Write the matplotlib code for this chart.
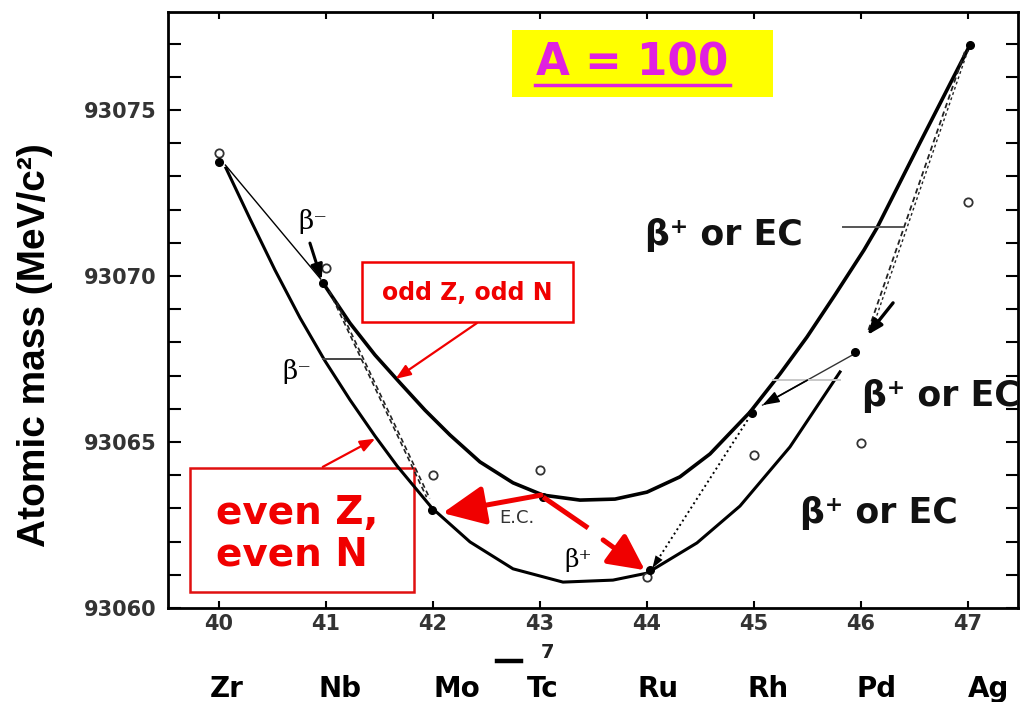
import matplotlib as mpl
mpl.use('Agg')
import matplotlib.pyplot as plt
import matplotlib.transforms as mtrans
from matplotlib.patches import Rectangle, FancyArrowPatch
from matplotlib.lines import Line2D
import numpy as np

# Isobar mass parabolas for A = 100

# axis values
Z_ticks = [40, 41, 42, 43, 44, 45, 46, 47]
elements = ['Zr', 'Nb', 'Mo', 'Tc', 'Ru', 'Rh', 'Pd', 'Ag']
mass_ticks = [93060, 93065, 93070, 93075]

# measured masses (open circles)
meas_Z = [40, 41, 42, 43, 44, 45, 46, 47]
meas_M = [93073.70, 93070.24, 93064.00, 93064.16, 93060.93, 93064.61, 93064.97, 93072.23]

# points sitting on the parabolas (filled dots)
dot_Z = [40.00, 40.97, 41.99, 43.03, 44.03, 44.98, 45.94, 47.02]
dot_M = [93073.43, 93069.79, 93062.95, 93063.34, 93061.14, 93065.87, 93067.71, 93076.96]

# even Z, even N parabola
ee_Z = [40.065, 40.290, 40.523, 40.757, 40.991, 41.224, 41.458, 41.664, 41.991,
        42.346, 42.748, 43.215, 43.682, 44.000, 44.467, 44.869, 45.336, 45.804]
ee_M = [93073.25, 93071.72, 93070.18, 93068.74, 93067.44, 93066.27, 93065.18,
        93064.28, 93063.01, 93061.99, 93061.18, 93060.78, 93060.84, 93061.05,
        93061.96, 93063.07, 93064.85, 93067.11]

# odd Z, odd N parabola
oo_Z = [40.972, 41.224, 41.458, 41.692, 41.925, 42.159, 42.439, 42.748, 43.028,
        43.374, 43.701, 44.000, 44.308, 44.589, 44.963, 45.243, 45.495, 45.757,
        46.028, 46.150, 46.551, 47.019]
oo_M = [93069.79, 93068.58, 93067.62, 93066.78, 93065.96, 93065.21, 93064.40,
        93063.77, 93063.40, 93063.25, 93063.28, 93063.49, 93063.95, 93064.64,
        93065.90, 93067.05, 93068.16, 93069.43, 93070.78, 93071.45, 93074.01,
        93076.96]

# decay lines (start, end) in (Z, mass)
zr_nb = [(40.06, 93073.34), (40.95, 93069.91)]
nb_head = [(40.85, 93070.99), (40.96, 93069.88)]
nb_mo_a = [(41.03, 93069.55), (41.94, 93063.34)]
nb_mo_b = [(41.10, 93069.20), (41.97, 93063.30)]
rh_ru = [(44.94, 93065.66), (44.05, 93061.20)]
pd_rh = [(45.92, 93067.62), (45.08, 93066.11)]
ag_pd_a = [(46.97, 93076.75), (46.06, 93068.28)]
ag_pd_b = [(47.00, 93076.80), (46.11, 93068.45)]
pd_head = [(46.30, 93069.19), (46.06, 93068.22)]

# red annotation arrows
ec_arrow = [(43.01, 93063.40), (42.09, 93062.86)]
bp_line = [(43.03, 93063.34), (43.45, 93062.41)]
bp_arrow = [(43.59, 93062.05), (43.98, 93061.14)]
odd_ptr = [(42.41, 93068.58), (41.65, 93066.90)]
even_ptr = [(40.97, 93064.25), (41.46, 93065.10)]

# little horizontal brackets
brackets = [((40.97, 41.32), 93067.50, '#444444'),
            ((45.83, 46.39), 93071.48, '#555555'),
            ((45.18, 45.80), 93066.87, '#c8c8c8')]

red = '#f00000'

fig = plt.figure(figsize=(10.21, 7.02), dpi=100)
ax = fig.add_axes([0.1645, 0.1339, 0.8325, 0.849])
ax.set_xlim(39.523, 47.467)
ax.set_ylim(93060, 93077.95)


def arrow(p, color='k', lw=1.0, hl=0.8, hw=0.35, ms=10, ls='-', z=5):
    a = FancyArrowPatch(p[0], p[1], arrowstyle='-|>,head_length=%g,head_width=%g' % (hl, hw),
                        mutation_scale=ms, color=color, lw=lw, linestyle=ls,
                        shrinkA=0, shrinkB=0, zorder=z)
    ax.add_patch(a)


def seg(p, **kw):
    ax.plot([p[0][0], p[1][0]], [p[0][1], p[1][1]], **kw)


# the two parabolas
ax.plot(ee_Z, ee_M, color='k', lw=2.2, solid_joinstyle='round', zorder=3)
ax.plot(oo_Z, oo_M, color='k', lw=2.6, solid_joinstyle='round', zorder=3)

# decay lines
seg(zr_nb, color='k', lw=1.0, zorder=3)
arrow(nb_head, lw=2.2, hl=0.9, hw=0.35, ms=10)
seg(nb_mo_a, color='#222222', lw=1.2, ls=(0, (3, 2)), zorder=3)
seg(nb_mo_b, color='#222222', lw=1.2, ls=(0, (3, 2)), zorder=3)
seg(rh_ru, color='k', lw=1.4, ls=':', zorder=3)
arrow([rh_ru[0], rh_ru[1]], lw=0, hl=0.9, hw=0.3, ms=10)
seg(pd_rh, color='#333333', lw=1.0, zorder=3)
arrow([((pd_rh[0][0] + pd_rh[1][0]) / 2, (pd_rh[0][1] + pd_rh[1][1]) / 2), pd_rh[1]],
      lw=1.2, hl=1.0, hw=0.35, ms=10)
seg(ag_pd_a, color='#222222', lw=1.3, ls=(0, (3, 2)), zorder=3)
seg(ag_pd_b, color='#222222', lw=1.0, ls=(0, (2, 2)), zorder=3)
arrow(pd_head, lw=2.4, hl=0.9, hw=0.35, ms=10)

for (x0, x1), y, c in brackets:
    ax.plot([x0, x1], [y, y], color=c, lw=1.4, zorder=3)

# points
ax.plot(meas_Z, meas_M, 'o', ms=6, mfc='white', mec='#333333', mew=1.3, ls='none', zorder=4)
ax.plot(dot_Z, dot_M, 'o', ms=5.5, color='k', ls='none', zorder=4)

# red arrows
arrow(ec_arrow, color=red, lw=3.6, hl=1.3, hw=0.6, ms=20, z=6)
seg(bp_line, color=red, lw=3.6, solid_capstyle='butt', zorder=6)
arrow(bp_arrow, color=red, lw=3.6, hl=1.1, hw=0.55, ms=20, z=6)
arrow(odd_ptr, color=red, lw=1.6, hl=0.9, hw=0.35, ms=10, z=6)
arrow(even_ptr, color=red, lw=1.6, hl=0.9, hw=0.35, ms=10, z=6)

# small labels inside the graph
ax.text(40.88, 93071.63, 'β⁻', fontsize=19, family='DejaVu Serif', ha='center', va='center')
ax.text(40.73, 93067.11, 'β⁻', fontsize=19, family='DejaVu Serif', ha='center', va='center')
ax.text(43.36, 93061.45, 'β⁺', fontsize=18, family='DejaVu Serif', ha='center', va='center', zorder=7)
ax.text(42.78, 93062.71, 'E.C.', fontsize=13, color='#333333', ha='center', va='center', zorder=5)

lab = dict(fontsize=25, fontweight='bold', family='DejaVu Sans', color='#111111',
           ha='left', va='center', transform=ax.transAxes)
ax.text(0.5612, 0.6258, 'β⁺ or EC', **lab)
ax.text(0.8165, 0.3557, 'β⁺ or EC', zorder=8, **lab)
ax.text(0.7435, 0.1594, 'β⁺ or EC', **lab)

# title box
ax.add_patch(Rectangle((0.4047, 0.8574), 0.3071, 0.1124, transform=ax.transAxes,
                       facecolor='#ffff00', edgecolor='none', zorder=2))
ax.text(0.5459, 0.9144, 'A = 100', transform=ax.transAxes, fontsize=31.5,
        fontweight='bold', color='#e020e0', ha='center', va='center', zorder=3)
ax.plot([0.4318, 0.6612], [0.8775, 0.8775], transform=ax.transAxes,
        color='#e020e0', lw=2.5, zorder=3)

# red label boxes
ax.add_patch(Rectangle((0.2282, 0.4799), 0.2482, 0.1007, transform=ax.transAxes,
                       facecolor='white', edgecolor=red, lw=1.8, zorder=2))
ax.text(0.3518, 0.5285, 'odd Z, odd N', transform=ax.transAxes, fontsize=17,
        fontweight='bold', color=red, ha='center', va='center', zorder=3)
ax.add_patch(Rectangle((0.0259, 0.0268), 0.2635, 0.2081, transform=ax.transAxes,
                       facecolor='white', edgecolor='#e01010', lw=1.8, zorder=2))
ax.text(0.1518, 0.1242, 'even Z,\neven N', transform=ax.transAxes, fontsize=28,
        fontweight='bold', color=red, ha='center', va='center', ma='left',
        linespacing=1.12, zorder=3)

# axes dressing
ax.set_xticks(Z_ticks)
ax.set_xticklabels([str(z) for z in Z_ticks], fontweight='bold', fontsize=15, color='#333333')
ax.set_yticks(mass_ticks)
ax.set_yticklabels([str(m) for m in mass_ticks], fontweight='bold', fontsize=15, color='#333333')
ax.set_yticks(np.arange(93060, 93078), minor=True)
ax.tick_params(axis='x', direction='in', length=5, width=1.5, top=True, pad=4)
ax.tick_params(axis='y', which='both', direction='in', length=9, width=1.5, right=True, pad=8)
for s in ax.spines.values():
    s.set_linewidth(2.0)

fig.text(0.0343, 0.5085, 'Atomic mass (MeV/c²)', rotation=90, ha='center', va='center',
         fontsize=28, fontweight='bold', family='Liberation Sans')

# element symbols under the Z axis
elem_nudge = [0.07, 0.13, 0.22, 0.03, 0.10, 0.13, 0.15, 0.19]
bt = mtrans.blended_transform_factory(ax.transData, fig.transFigure)
for z, el, dz in zip(Z_ticks, elements, elem_nudge):
    ax.text(z + dz, 0.0071, el, transform=bt, fontsize=20, fontweight='bold',
            ha='center', va='baseline', clip_on=False)
ax.text(43.07, 0.0712, '7', transform=bt, fontsize=14, fontweight='bold',
        ha='center', va='center', color='#222222', clip_on=False)
fig.add_artist(Line2D([0.4868, 0.5103], [0.0584, 0.0584], color='k', lw=3.2))

fig.savefig('out.png', dpi=100)
